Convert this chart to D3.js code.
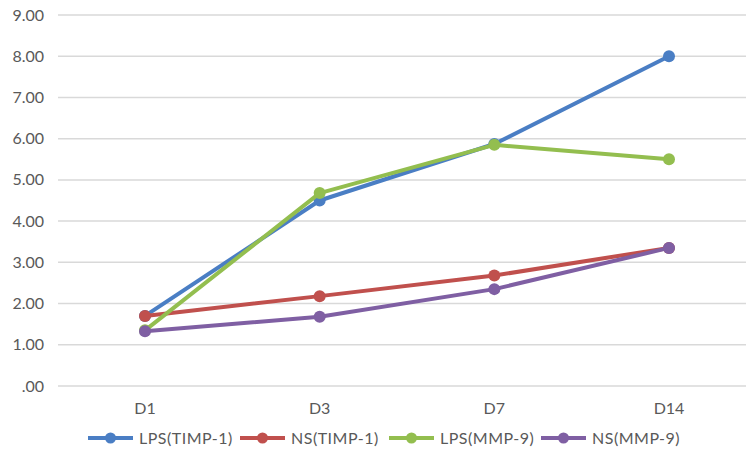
<!DOCTYPE html>
<html><head><meta charset="utf-8">
<script src="https://cdn.jsdelivr.net/npm/d3@7"></script>
<style>body{margin:0;background:#fff}svg{display:block}</style>
</head><body><svg id="c" width="746" height="454"></svg>
<script>
const categories = ["D1","D3","D7","D14"];
const seriesNames = ["LPS(TIMP-1)","NS(TIMP-1)","LPS(MMP-9)","NS(MMP-9)"];
const lpsTimp = [1.70, 4.50, 5.87, 8.00];
const nsTimp  = [1.70, 2.18, 2.68, 3.35];
const lpsMmp  = [1.35, 4.68, 5.85, 5.50];
const nsMmp   = [1.33, 1.68, 2.35, 3.35];
const yTicks = [0,1,2,3,4,5,6,7,8,9];
const colors = ["#4a7ec4","#c0504d","#93be4f","#7f5fa3"];

const series = [lpsTimp, nsTimp, lpsMmp, nsMmp].map((v,i)=>({name:seriesNames[i], values:v, color:colors[i]}));

const svg = d3.select("#c");
const x = d3.scalePoint().domain(categories).range([145, 669]);
const y = d3.scaleLinear().domain([0,9]).range([386, 15]);
const font = "Lato, 'Open Sans', sans-serif";

// gridlines
svg.append("g").selectAll("line").data(yTicks).join("line")
  .attr("x1",58).attr("x2",746)
  .attr("y1",d=>y(d)).attr("y2",d=>y(d))
  .attr("stroke","#d9d9d9").attr("stroke-width",1.5);

// y labels
svg.append("g").selectAll("text").data(yTicks).join("text")
  .attr("x",44).attr("y",d=>y(d)).attr("dy","0.35em")
  .attr("text-anchor","end").attr("font-family",font).attr("font-size",16)
  .attr("fill","#595959")
  .text(d=> d===0 ? ".00" : d3.format(".2f")(d));

// x labels
svg.append("g").selectAll("text").data(categories).join("text")
  .attr("x",d=>x(d)).attr("y",408).attr("dy","0.35em")
  .attr("text-anchor","middle").attr("font-family",font).attr("font-size",16)
  .attr("fill","#595959").text(d=>d);

const line = d3.line().x((d,i)=>x(categories[i])).y(d=>y(d));
const g = svg.append("g");
series.forEach(s=>{
  g.append("path").attr("d",line(s.values)).attr("fill","none")
    .attr("stroke",s.color).attr("stroke-width",4).attr("stroke-linejoin","round");
  g.selectAll(null).data(s.values).join("circle")
    .attr("cx",(d,i)=>x(categories[i])).attr("cy",d=>y(d)).attr("r",6)
    .attr("fill",s.color);
});

// legend
const legX = [88, 240, 389, 541];
const lg = svg.append("g");
series.forEach((s,i)=>{
  const gx = legX[i], gy = 438;
  lg.append("line").attr("x1",gx).attr("x2",gx+45).attr("y1",gy).attr("y2",gy)
    .attr("stroke",s.color).attr("stroke-width",4);
  lg.append("circle").attr("cx",gx+22.5).attr("cy",gy).attr("r",5.5).attr("fill",s.color);
  lg.append("text").attr("x",gx+51).attr("y",gy).attr("dy","0.35em")
    .attr("font-family",font).attr("font-size",16).attr("letter-spacing","0.5px")
    .attr("fill","#595959").text(s.name);
});
</script></body></html>
